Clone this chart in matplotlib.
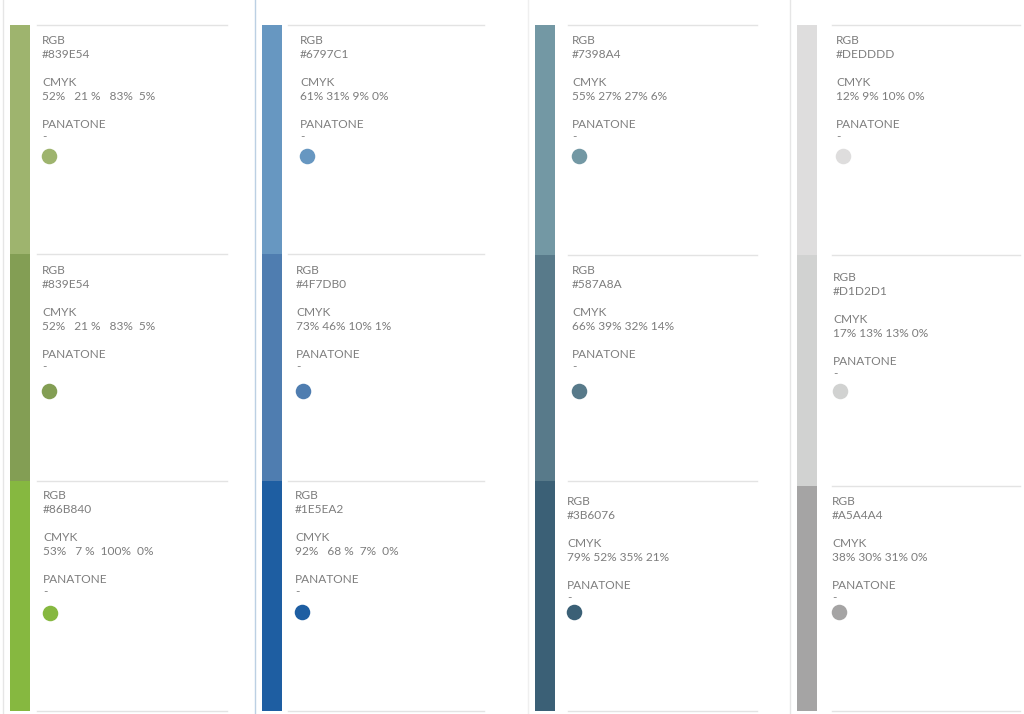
import matplotlib.pyplot as plt

# palette data: one list per column, three shades each
hex_codes = [
    ["#839E54", "#839E54", "#86B840"],
    ["#6797C1", "#4F7DB0", "#1E5EA2"],
    ["#7398A4", "#587A8A", "#3B6076"],
    ["#DEDDDD", "#D1D2D1", "#A5A4A4"],
]
cmyk_labels = [
    ["52%   21 %   83%  5%", "52%   21 %   83%  5%", "53%   7 %  100%  0%"],
    ["61% 31% 9% 0%", "73% 46% 10% 1%", "92%   68 %  7%  0%"],
    ["55% 27% 27% 6%", "66% 39% 32% 14%", "79% 52% 35% 21%"],
    ["12% 9% 10% 0%", "17% 13% 13% 0%", "38% 30% 31% 0%"],
]
# colours actually shown in the swatches
swatch_colors = [
    ["#9EB46E", "#839E54", "#86B840"],
    ["#6797C1", "#4F7DB0", "#1E5EA2"],
    ["#7398A4", "#587A8A", "#3B6076"],
    ["#DEDDDD", "#D1D2D1", "#A5A4A4"],
]
pantone_labels = ["-", "-", "-"]

# layout (pixels)
bar_x = [10, 262, 535, 797]
bar_w = 20
row_edges = [
    [25, 254, 481, 711],
    [25, 254, 481, 711],
    [25, 255, 481, 711],
    [25, 255, 486, 711],
]
text_x = [[42, 42, 43], [300, 296, 295], [572, 572, 567], [836, 833, 832]]
text_top = [[35, 265, 490], [35, 265, 490], [35, 265, 496], [35, 272, 496]]
dot_y = [[156, 391, 613], [156, 391, 612], [156, 391, 612], [156, 391, 612]]
rule_span = [(37, 227), (288, 484), (568, 757), (832, 1020)]
sep_x = [3, 255, 528, 790]
sep_col = ["#e6e6e6", "#bcd0e3", "#efefef", "#e6e6e6"]

txt_col = "#7d7d7d"
plt.rcParams['font.family'] = ['Lato', 'DejaVu Sans']

fig = plt.figure(figsize=(10.24, 7.14), dpi=100)
ax = fig.add_axes([0, 0, 1, 1])
ax.set_xlim(0, 1024)
ax.set_ylim(714, 0)
ax.axis('off')

fs = 8.6
for c in range(4):
    ax.axvline(sep_x[c], color=sep_col[c], lw=1)
    edges = row_edges[c]
    x0, x1 = rule_span[c]
    for r in range(3):
        h = edges[r + 1] - edges[r]
        ax.bar(bar_x[c], h, bottom=edges[r], width=bar_w, align='edge',
               color=swatch_colors[c][r], linewidth=0)
        ax.plot([x0, x1], [edges[r], edges[r]], color="#e3e3e3", lw=1)

        tx = text_x[c][r]
        ty = text_top[c][r]
        ax.text(tx, ty, "RGB", color=txt_col, fontsize=fs, va='top')
        ax.text(tx, ty + 14, hex_codes[c][r], color=txt_col, fontsize=fs, va='top')
        ax.text(tx, ty + 42, "CMYK", color=txt_col, fontsize=fs, va='top')
        ax.text(tx, ty + 56, cmyk_labels[c][r], color=txt_col, fontsize=fs, va='top')
        ax.text(tx, ty + 84, "PANATONE", color=txt_col, fontsize=fs, va='top')
        ax.text(tx, ty + 96, pantone_labels[r], color=txt_col, fontsize=fs, va='top')
        ax.scatter(tx + 7, dot_y[c][r], s=125, color=swatch_colors[c][r], linewidths=0)
    ax.plot([x0, x1], [edges[3], edges[3]], color="#e3e3e3", lw=1)

fig.savefig("out.png", dpi=100)
